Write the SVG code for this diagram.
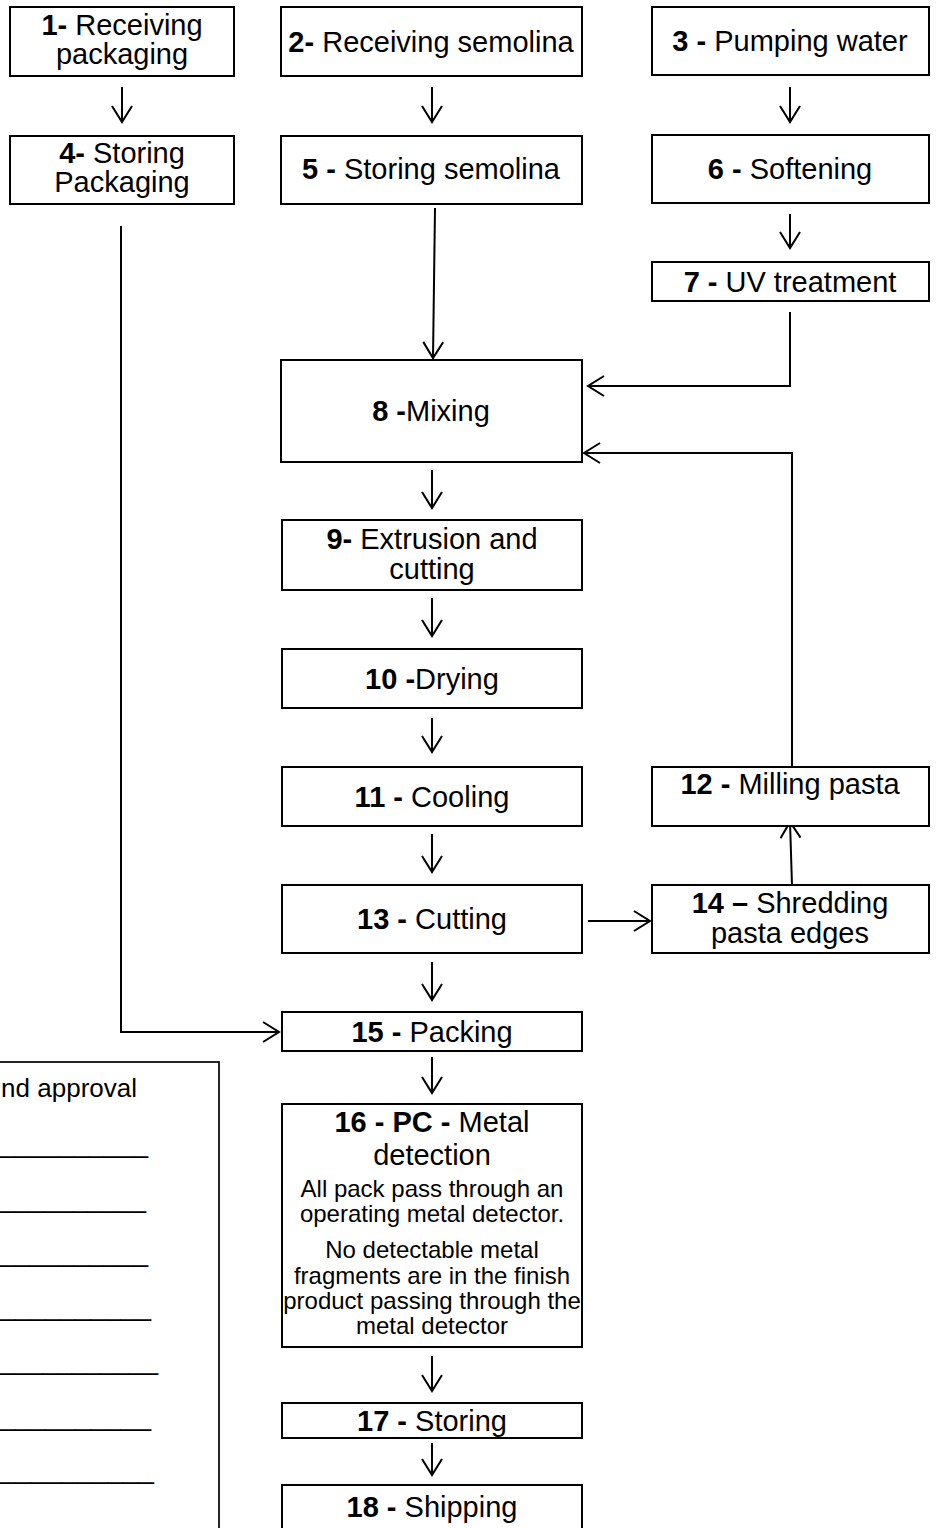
<svg xmlns="http://www.w3.org/2000/svg" width="945" height="1528" viewBox="0 0 945 1528">
<style>
.box{fill:#fff;stroke:#000;stroke-width:2}
.t{font-family:"Liberation Sans",Arial,sans-serif;font-size:29px;fill:#000;text-anchor:middle}
.s{font-family:"Liberation Sans",Arial,sans-serif;font-size:24px;fill:#000;text-anchor:middle}
.b{font-weight:bold}
.c{fill:none;stroke:#000;stroke-width:2}
.u{font-family:"Liberation Sans",Arial,sans-serif;font-size:26px;fill:#000}
</style>
<defs>
<marker id="ah" viewBox="0 0 20 22" refX="18" refY="11" markerWidth="20" markerHeight="22" markerUnits="userSpaceOnUse" orient="auto">
<path d="M2,1 L18,11 L2,21" fill="none" stroke="#000" stroke-width="2"/>
</marker>
</defs>
<rect width="945" height="1528" fill="#fff"/>

<g id="connectors">
<path class="c" marker-end="url(#ah)" d="M122,87 V122"/>
<path class="c" marker-end="url(#ah)" d="M432,87 V122"/>
<path class="c" marker-end="url(#ah)" d="M790,87 V122"/>
<path class="c" marker-end="url(#ah)" d="M790,214 V248"/>
<path class="c" marker-end="url(#ah)" d="M432,470 V508"/>
<path class="c" marker-end="url(#ah)" d="M432,598 V636"/>
<path class="c" marker-end="url(#ah)" d="M432,718 V752"/>
<path class="c" marker-end="url(#ah)" d="M432,834 V872"/>
<path class="c" marker-end="url(#ah)" d="M432,962 V1000"/>
<path class="c" marker-end="url(#ah)" d="M432,1057 V1093"/>
<path class="c" marker-end="url(#ah)" d="M432,1356 V1391"/>
<path class="c" marker-end="url(#ah)" d="M432,1443 V1475"/>
<path class="c" marker-end="url(#ah)" d="M435,208 L433,358"/>
<path class="c" marker-end="url(#ah)" d="M790,312 V386 H588"/>
<path class="c" marker-end="url(#ah)" d="M792,767 V453 H584"/>
<path class="c" marker-end="url(#ah)" d="M588,921 H650"/>
<path class="c" marker-end="url(#ah)" d="M792,885 L790,822"/>
<path class="c" marker-end="url(#ah)" d="M121,226 V1032 H279"/>
</g>

<g id="n1"><rect class="box" x="10" y="7" width="224" height="69"/>
<text class="t" x="122" y="35"><tspan class="b">1-</tspan> Receiving</text>
<text class="t" x="122" y="64">packaging</text></g>

<g id="n2"><rect class="box" x="281" y="7" width="301" height="69"/>
<text class="t" x="431" y="52"><tspan class="b">2-</tspan> Receiving semolina</text></g>

<g id="n3"><rect class="box" x="652" y="7" width="277" height="68"/>
<text class="t" x="790" y="51"><tspan class="b">3 -</tspan> Pumping water</text></g>

<g id="n4"><rect class="box" x="10" y="136" width="224" height="68"/>
<text class="t" x="122" y="163"><tspan class="b">4-</tspan> Storing</text>
<text class="t" x="122" y="192">Packaging</text></g>

<g id="n5"><rect class="box" x="281" y="136" width="301" height="68"/>
<text class="t" x="431" y="179"><tspan class="b">5 -</tspan> Storing semolina</text></g>

<g id="n6"><rect class="box" x="652" y="135" width="277" height="68"/>
<text class="t" x="790" y="179"><tspan class="b">6 -</tspan> Softening</text></g>

<g id="n7"><rect class="box" x="652" y="262" width="277" height="39"/>
<text class="t" x="790" y="292"><tspan class="b">7 -</tspan> UV treatment</text></g>

<g id="n8"><rect class="box" x="281" y="360" width="301" height="102"/>
<text class="t" x="431" y="421"><tspan class="b">8 -</tspan>Mixing</text></g>

<g id="n9"><rect class="box" x="282" y="520" width="300" height="70"/>
<text class="t" x="432" y="549"><tspan class="b">9-</tspan> Extrusion and</text>
<text class="t" x="432" y="579">cutting</text></g>

<g id="n10"><rect class="box" x="282" y="649" width="300" height="59"/>
<text class="t" x="432" y="689"><tspan class="b">10 -</tspan>Drying</text></g>

<g id="n11"><rect class="box" x="282" y="767" width="300" height="59"/>
<text class="t" x="432" y="807"><tspan class="b">11 -</tspan> Cooling</text></g>

<g id="n12"><rect class="box" x="652" y="767" width="277" height="59"/>
<text class="t" x="790" y="794"><tspan class="b">12 -</tspan> Milling pasta</text></g>

<g id="n13"><rect class="box" x="282" y="885" width="300" height="68"/>
<text class="t" x="432" y="929"><tspan class="b">13 -</tspan> Cutting</text></g>

<g id="n14"><rect class="box" x="652" y="885" width="277" height="68"/>
<text class="t" x="790" y="913"><tspan class="b">14 –</tspan> Shredding</text>
<text class="t" x="790" y="943">pasta edges</text></g>

<g id="n15"><rect class="box" x="282" y="1012" width="300" height="39"/>
<text class="t" x="432" y="1042"><tspan class="b">15 -</tspan> Packing</text></g>

<g id="n16"><rect class="box" x="282" y="1104" width="300" height="243"/>
<text class="t" x="432" y="1132"><tspan class="b">16 - PC -</tspan> Metal</text>
<text class="t" x="432" y="1165">detection</text>
<text class="s" x="432" y="1197">All pack pass through an</text>
<text class="s" x="432" y="1222">operating metal detector.</text>
<text class="s" x="432" y="1258">No detectable metal</text>
<text class="s" x="432" y="1284">fragments are in the finish</text>
<text class="s" x="432" y="1309">product passing through the</text>
<text class="s" x="432" y="1334">metal detector</text></g>

<g id="n17"><rect class="box" x="282" y="1403" width="300" height="35"/>
<text class="t" x="432" y="1431"><tspan class="b">17 -</tspan> Storing</text></g>

<g id="n18"><rect class="box" x="282" y="1485" width="300" height="60"/>
<text class="t" x="432" y="1517"><tspan class="b">18 -</tspan> Shipping</text></g>

<g id="approval"><rect x="-10" y="1062" width="229" height="480" fill="#fff" stroke="#000" stroke-width="1.7"/>
<text class="u" x="137" y="1097" text-anchor="end">nd approval</text>
<text class="u" x="0" y="1153" textLength="148" lengthAdjust="spacingAndGlyphs">__________</text>
<text class="u" x="0" y="1208" textLength="146" lengthAdjust="spacingAndGlyphs">__________</text>
<text class="u" x="0" y="1262" textLength="148" lengthAdjust="spacingAndGlyphs">__________</text>
<text class="u" x="0" y="1316" textLength="151" lengthAdjust="spacingAndGlyphs">__________</text>
<text class="u" x="0" y="1370" textLength="158" lengthAdjust="spacingAndGlyphs">___________</text>
<text class="u" x="0" y="1426" textLength="151" lengthAdjust="spacingAndGlyphs">__________</text>
<text class="u" x="0" y="1479" textLength="154" lengthAdjust="spacingAndGlyphs">__________</text>
</g>
</svg>
